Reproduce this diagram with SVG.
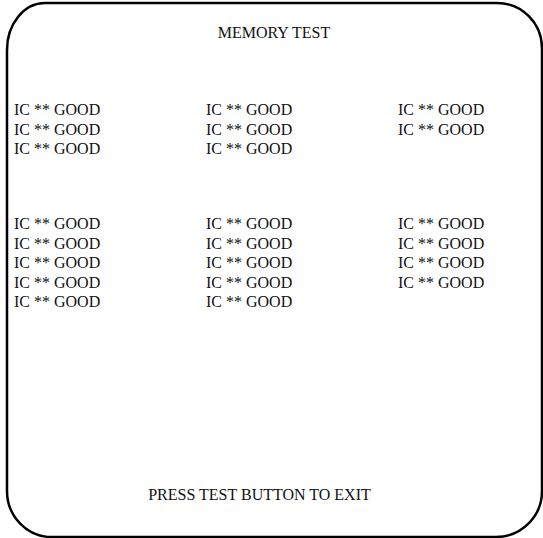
<svg xmlns="http://www.w3.org/2000/svg" width="543" height="538" viewBox="0 0 543 538">
<style>
text{font-family:"Liberation Serif","Times New Roman",serif;font-size:16px;fill:#111;}
.frame{fill:none;stroke:#000;stroke-width:2.5;}
</style>
<rect width="543" height="538" fill="#fff"/>
<path class="frame" d="M45,3 H497 A45,45 0 0 1 542,48 V490 A46,46 0 0 1 496,537 H52 A45,46 0 0 1 7,491 V50 A38,47 0 0 1 45,3 Z"/>
<text id="title" x="274" y="38" text-anchor="middle">MEMORY TEST</text>
<g id="block1">
<text x="14" y="115">IC ** GOOD</text>
<text x="14" y="134.5">IC ** GOOD</text>
<text x="14" y="154">IC ** GOOD</text>
<text x="206" y="115">IC ** GOOD</text>
<text x="206" y="134.5">IC ** GOOD</text>
<text x="206" y="154">IC ** GOOD</text>
<text x="398" y="115">IC ** GOOD</text>
<text x="398" y="134.5">IC ** GOOD</text>
</g>
<g id="block2">
<text x="14" y="229">IC ** GOOD</text>
<text x="14" y="248.5">IC ** GOOD</text>
<text x="14" y="268">IC ** GOOD</text>
<text x="14" y="287.5">IC ** GOOD</text>
<text x="14" y="307">IC ** GOOD</text>
<text x="206" y="229">IC ** GOOD</text>
<text x="206" y="248.5">IC ** GOOD</text>
<text x="206" y="268">IC ** GOOD</text>
<text x="206" y="287.5">IC ** GOOD</text>
<text x="206" y="307">IC ** GOOD</text>
<text x="398" y="229">IC ** GOOD</text>
<text x="398" y="248.5">IC ** GOOD</text>
<text x="398" y="268">IC ** GOOD</text>
<text x="398" y="287.5">IC ** GOOD</text>
</g>
<text id="footer" x="259.5" y="500" text-anchor="middle">PRESS TEST BUTTON TO EXIT</text>
</svg>
